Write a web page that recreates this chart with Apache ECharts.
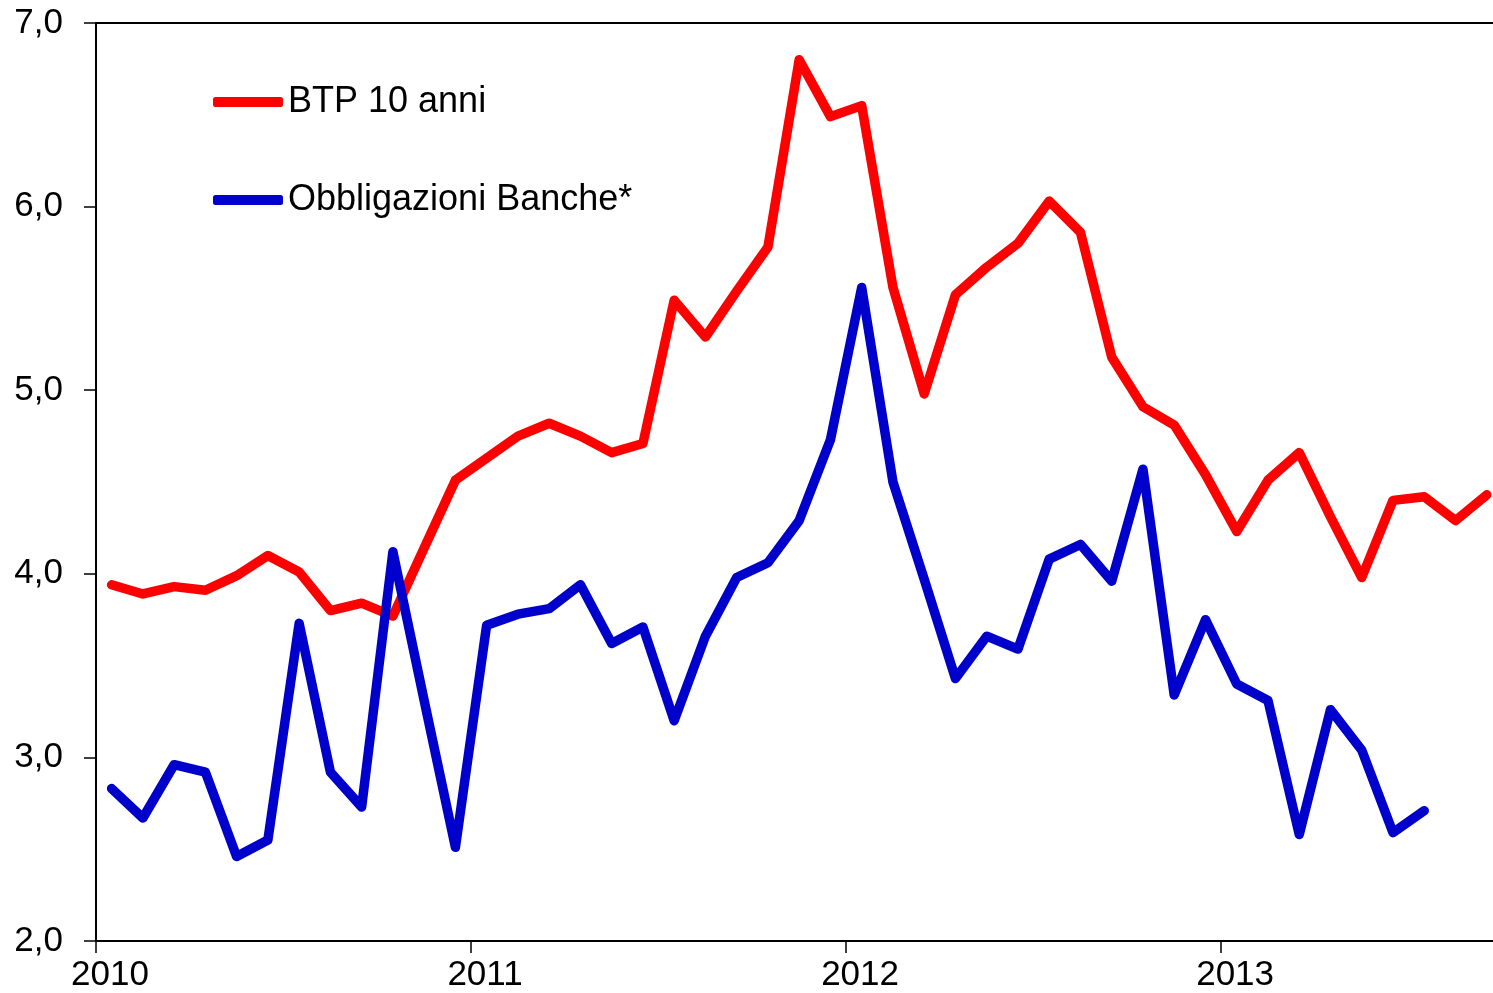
<!DOCTYPE html>
<html>
<head>
<meta charset="utf-8">
<script src="https://cdn.jsdelivr.net/npm/echarts@6/dist/echarts.min.js"></script>
<style>
  html, body { margin: 0; padding: 0; background: #fff; }
  #chart { width: 1493px; height: 993px; }
</style>
</head>
<body>
<div id="chart"></div>
<script>
// mesi da gen 2010 a set 2013
const years = [2010, 2011, 2012, 2013];
const months = [];
years.forEach(y => {
  for (let m = 1; m <= 12; m++) months.push(y + '-' + (m < 10 ? '0' + m : m));
});
months.length = 45;

// rendimento BTP 10 anni (%)
const btp = [
  3.94, 3.89, 3.93, 3.91, 3.99, 4.10, 4.01, 3.80, 3.84, 3.77,
  4.14, 4.51, 4.63, 4.75, 4.82, 4.75, 4.66, 4.71, 5.49, 5.29,
  5.54, 5.78, 6.80, 6.49, 6.55, 5.56, 4.98, 5.52, 5.67, 5.80,
  6.03, 5.86, 5.18, 4.91, 4.81, 4.54, 4.23, 4.51, 4.66, 4.31,
  3.98, 4.40, 4.42, 4.29, 4.43
];
// rendimento obbligazioni bancarie (%)
const banche = [
  2.83, 2.67, 2.96, 2.92, 2.46, 2.55, 3.73, 2.92, 2.73, 4.12,
  3.31, 2.51, 3.72, 3.78, 3.81, 3.94, 3.62, 3.71, 3.20, 3.66,
  3.98, 4.06, 4.29, 4.73, 5.56, 4.50, 3.97, 3.43, 3.66, 3.59,
  4.08, 4.16, 3.96, 4.57, 3.34, 3.75, 3.40, 3.31, 2.58, 3.26,
  3.04, 2.59, 2.71
];
const yTicks = [2, 3, 4, 5, 6, 7];
const yearTicks = [0, 12, 24, 36];

// punti a metà mese
const toPoints = arr => arr.map((v, i) => [i + 0.5, v]);

const font = 'Liberation Sans, Arial, sans-serif';
const chart = echarts.init(document.getElementById('chart'));
chart.setOption({
  animation: false,
  grid: { left: 96, top: 23, bottom: 52, right: 0 },
  legend: {
    orient: 'vertical',
    left: 213, top: 84, padding: 0,
    itemWidth: 70, itemHeight: 10, itemGap: 62,
    icon: 'roundRect',
    textStyle: { fontFamily: font, fontSize: 36, color: '#000', lineHeight: 36 },
    data: ['BTP 10 anni', 'Obbligazioni Banche*']
  },
  xAxis: [{
    type: 'value',
    min: 0, max: 44.7,
    splitLine: { show: false },
    axisLine: { lineStyle: { color: '#000', width: 2 } },
    axisTick: { length: 12, customValues: yearTicks, lineStyle: { color: '#000', width: 1.5 } },
    axisLabel: {
      margin: 17,
      customValues: yearTicks,
      fontFamily: font, fontSize: 35, color: '#000',
      padding: [0, 0, 0, 28],
      formatter: v => String(years[0] + v / 12)
    }
  }, {
    type: 'value', position: 'top',
    min: 0, max: 44.7,
    splitLine: { show: false },
    axisLine: { show: true, lineStyle: { color: '#000', width: 2 } },
    axisTick: { show: false },
    axisLabel: { show: false }
  }],
  yAxis: {
    type: 'value',
    min: yTicks[0], max: yTicks[yTicks.length - 1], interval: 1,
    splitLine: { show: false },
    axisLine: { show: true, lineStyle: { color: '#000', width: 2 } },
    axisTick: { show: true, length: 12, lineStyle: { color: '#000', width: 1.5 } },
    axisLabel: {
      margin: 33,
      fontFamily: font, fontSize: 35, color: '#000',
      formatter: v => v.toFixed(1).replace('.', ',')
    }
  },
  series: [
    {
      name: 'BTP 10 anni', type: 'line', data: toPoints(btp),
      symbol: 'none', color: '#ff0000',
      lineStyle: { color: '#ff0000', width: 9.5, join: 'round', cap: 'round' }
    },
    {
      name: 'Obbligazioni Banche*', type: 'line', data: toPoints(banche),
      symbol: 'none', color: '#0000cc',
      lineStyle: { color: '#0000cc', width: 9.5, join: 'round', cap: 'round' }
    }
  ]
});
</script>
</body>
</html>
